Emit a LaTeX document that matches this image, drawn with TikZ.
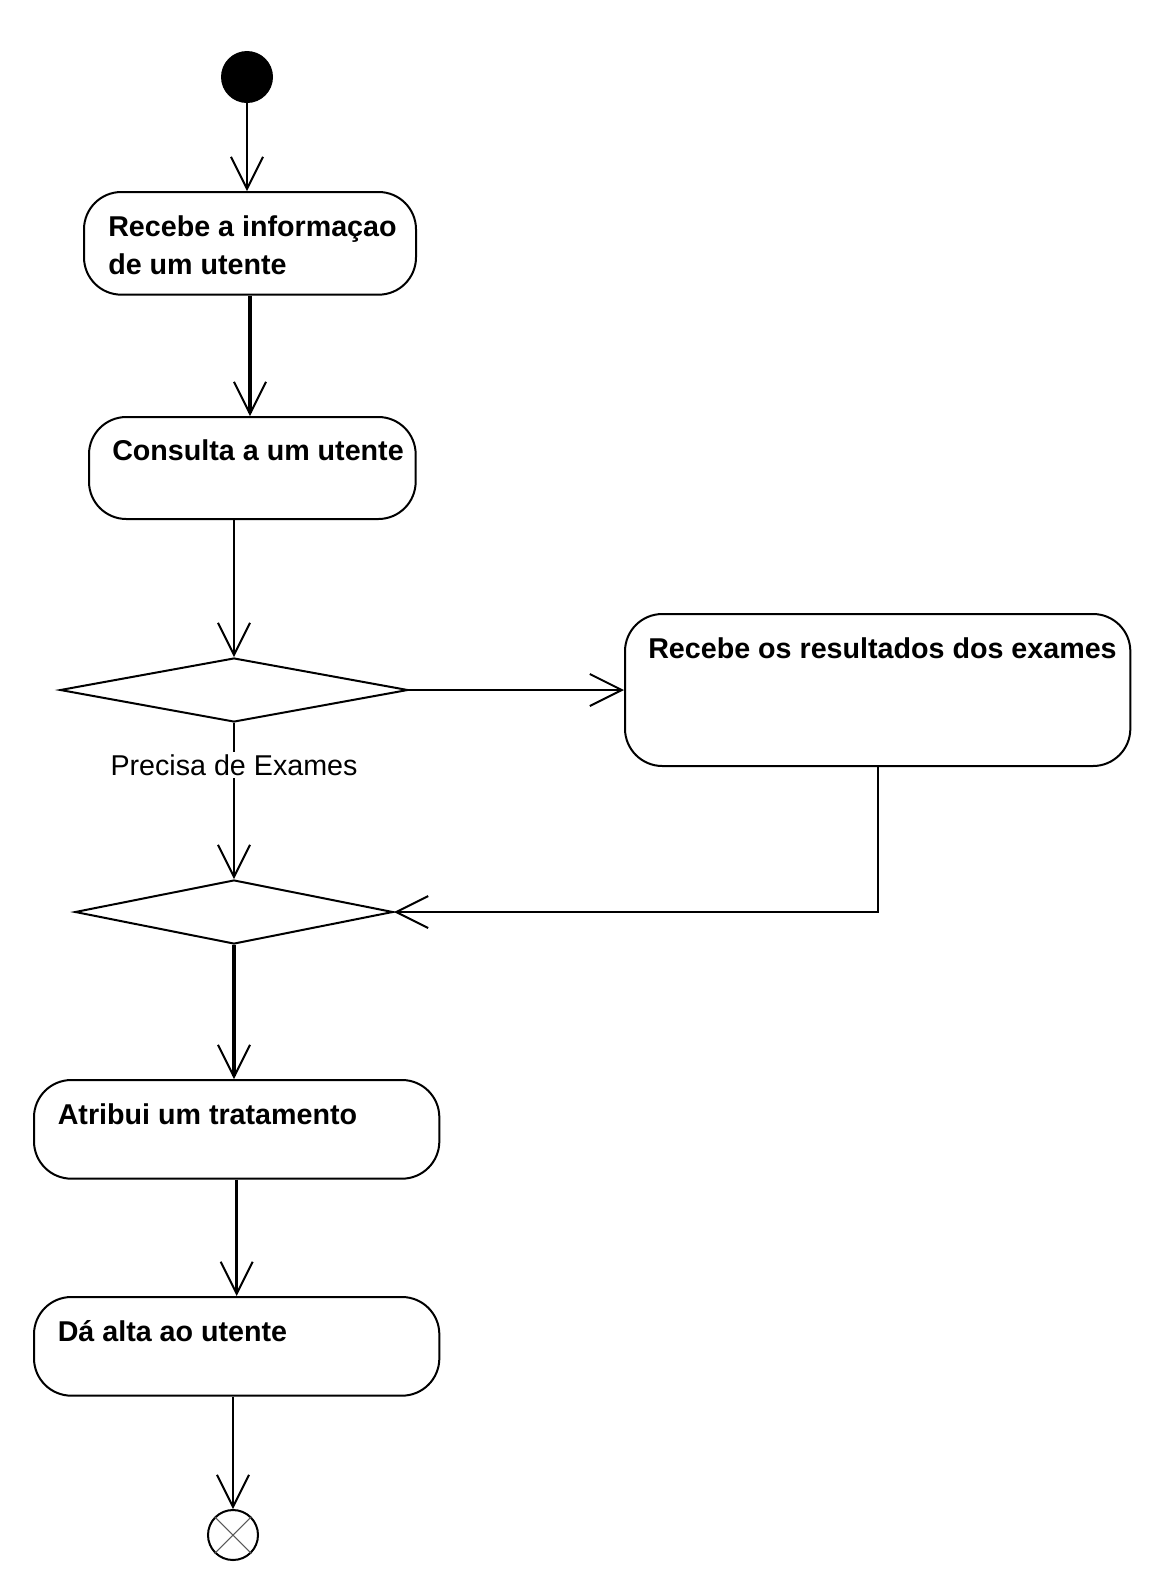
\documentclass[tikz,border=0pt]{standalone}
\usepackage{fontspec}
\setmainfont{Liberation Sans}
\usetikzlibrary{arrows.meta,shapes.geometric}
\tikzset{
  actbox/.style={draw, line width=1.5pt, rounded corners=28pt, anchor=north west, inner sep=0pt},
  btxt/.style={anchor=base west, inner sep=0pt, font=\fontsize{21.5}{28.5}\selectfont\bfseries},
  dec/.style={draw, diamond, line width=1.5pt, inner sep=0pt, aspect=5},
  thin/.style={line width=1.5pt, -{Straight Barb[length=24pt,width=24pt,line width=1.5pt]}},
  thick/.style={line width=2.3pt, -{Straight Barb[length=24pt,width=24pt,line width=1.5pt]}},
  lbl/.style={fill=white, inner sep=2pt, font=\fontsize{21.5}{28.5}\selectfont},
}
\begin{document}
\begin{tikzpicture}[x=0.75pt,y=-0.75pt]
\useasboundingbox (0,0) rectangle (1155,1582);
% start
\node[circle, fill=black, minimum size=39pt, inner sep=0pt] (s) at (247,77) {};
% boxes
\node[actbox, minimum width=249pt, minimum height=77pt] (b1) at (83,191) {};
\node[btxt] (t1a) at (108,236) {Recebe a informaçao};
\node[btxt] (t1b) at (108,274) {de um utente};
\node[actbox, minimum width=245pt, minimum height=76.5pt] (b2) at (88,416) {};
\node[btxt] (t2) at (112,460) {Consulta a um utente};
\node[actbox, minimum width=379pt, minimum height=114pt] (b3) at (624,613) {};
\node[btxt] (t3) at (648,658) {Recebe os resultados dos exames};
\node[actbox, minimum width=304pt, minimum height=74pt] (b4) at (33,1079) {};
\node[btxt] (t4) at (57.5,1124) {Atribui um tratamento};
\node[actbox, minimum width=304pt, minimum height=74pt] (b5) at (33,1296) {};
\node[btxt] (t5) at (57.5,1341) {Dá alta ao utente};
% decisions
\node[dec, minimum width=261pt, minimum height=48pt] (d1) at (234,690) {};
\node[dec, minimum width=238.5pt, minimum height=48pt] (d2) at (234,912) {};
% end
\node[circle, draw, line width=1.5pt, minimum size=37.5pt, inner sep=0pt] (e) at (233,1535) {};
\draw[line width=0.8pt, gray!70!black] (e.north east) -- (e.south west) (e.north west) -- (e.south east);
% connectors
\draw[thin] (s) -- (s |- b1.north);
\draw[thick] (b1.south) -- (b1.south |- b2.north);
\draw[thin] (d1.north |- b2.south) -- (d1.north);
\draw[thin] (d1.east) -- (d1.east -| b3.west);
\draw[thin] (d1.south) -- node[lbl, pos=0.27] (lb) {Precisa de Exames} (d2.north);
\draw[thin] (b3.south) |- (d2.east);
\draw[thick] (d2.south) -- (d2.south |- b4.north);
\draw[thick] (b4.south) -- (b4.south |- b5.north);
\draw[thin] (e |- b5.south) -- (e.north);
\end{tikzpicture}
\end{document}
